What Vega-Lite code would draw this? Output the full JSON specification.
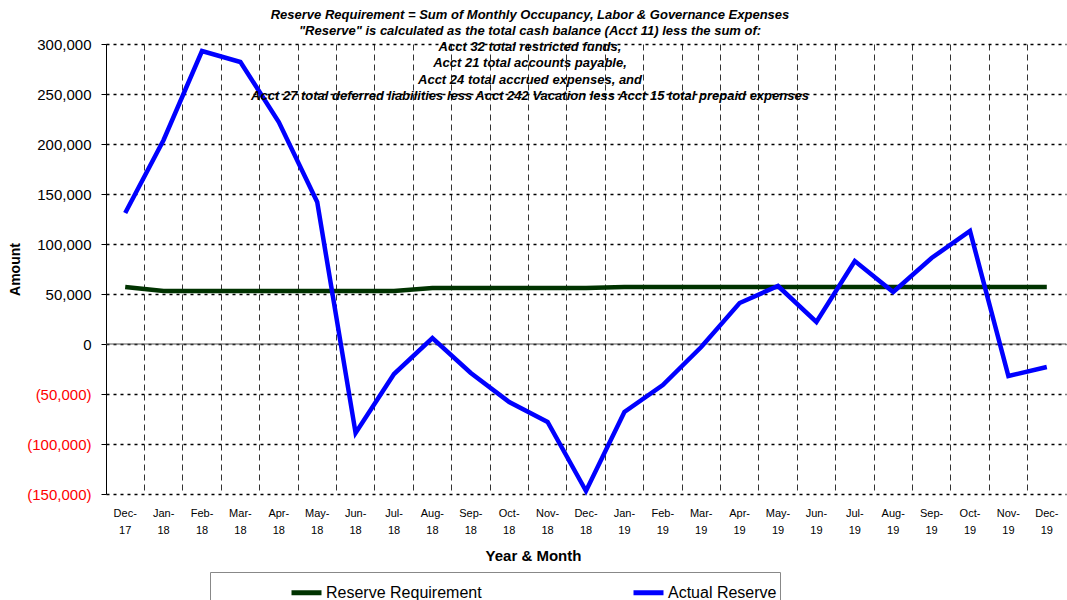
{
  "$schema": "https://vega.github.io/schema/vega-lite/v6.json",
  "width": 960,
  "height": 450,
  "autosize": "none",
  "padding": {"left": 106, "top": 44, "right": 1, "bottom": 106},
  "background": "white",
  "config": {
    "view": {"stroke": null},
    "font": "Liberation Sans"
  },
  "title": {
    "text": [
      "Reserve Requirement = Sum of Monthly Occupancy, Labor & Governance Expenses",
      "\"Reserve\" is calculated as the total cash balance (Acct 11) less the sum of:",
      "Acct 32 total restricted funds,",
      "Acct 21 total accounts payable,",
      "Acct 24 total accrued expenses, and",
      "Acct 27 total deferred liabilities less Acct 242 Vacation less Acct 15 total prepaid expenses"
    ],
    "font": "Liberation Sans",
    "fontSize": 13,
    "fontWeight": "bold",
    "fontStyle": "italic",
    "color": "black",
    "lineHeight": 16.3,
    "anchor": "middle",
    "dx": -56,
    "offset": -66
  },
  "data": {
    "values": [
      {"month": "Dec-17", "series": "Reserve Requirement", "value": 57000},
      {"month": "Jan-18", "series": "Reserve Requirement", "value": 53000},
      {"month": "Feb-18", "series": "Reserve Requirement", "value": 53000},
      {"month": "Mar-18", "series": "Reserve Requirement", "value": 53000},
      {"month": "Apr-18", "series": "Reserve Requirement", "value": 53000},
      {"month": "May-18", "series": "Reserve Requirement", "value": 53000},
      {"month": "Jun-18", "series": "Reserve Requirement", "value": 53000},
      {"month": "Jul-18", "series": "Reserve Requirement", "value": 53000},
      {"month": "Aug-18", "series": "Reserve Requirement", "value": 56000},
      {"month": "Sep-18", "series": "Reserve Requirement", "value": 56000},
      {"month": "Oct-18", "series": "Reserve Requirement", "value": 56000},
      {"month": "Nov-18", "series": "Reserve Requirement", "value": 56000},
      {"month": "Dec-18", "series": "Reserve Requirement", "value": 56000},
      {"month": "Jan-19", "series": "Reserve Requirement", "value": 57000},
      {"month": "Feb-19", "series": "Reserve Requirement", "value": 57000},
      {"month": "Mar-19", "series": "Reserve Requirement", "value": 57000},
      {"month": "Apr-19", "series": "Reserve Requirement", "value": 57000},
      {"month": "May-19", "series": "Reserve Requirement", "value": 57000},
      {"month": "Jun-19", "series": "Reserve Requirement", "value": 57000},
      {"month": "Jul-19", "series": "Reserve Requirement", "value": 57000},
      {"month": "Aug-19", "series": "Reserve Requirement", "value": 57000},
      {"month": "Sep-19", "series": "Reserve Requirement", "value": 57000},
      {"month": "Oct-19", "series": "Reserve Requirement", "value": 57000},
      {"month": "Nov-19", "series": "Reserve Requirement", "value": 57000},
      {"month": "Dec-19", "series": "Reserve Requirement", "value": 57000},
      {"month": "Dec-17", "series": "Actual Reserve", "value": 131000},
      {"month": "Jan-18", "series": "Actual Reserve", "value": 204000},
      {"month": "Feb-18", "series": "Actual Reserve", "value": 293000},
      {"month": "Mar-18", "series": "Actual Reserve", "value": 282000},
      {"month": "Apr-18", "series": "Actual Reserve", "value": 222000},
      {"month": "May-18", "series": "Actual Reserve", "value": 142000},
      {"month": "Jun-18", "series": "Actual Reserve", "value": -89000},
      {"month": "Jul-18", "series": "Actual Reserve", "value": -30000},
      {"month": "Aug-18", "series": "Actual Reserve", "value": 6000},
      {"month": "Sep-18", "series": "Actual Reserve", "value": -29000},
      {"month": "Oct-18", "series": "Actual Reserve", "value": -58000},
      {"month": "Nov-18", "series": "Actual Reserve", "value": -78000},
      {"month": "Dec-18", "series": "Actual Reserve", "value": -147000},
      {"month": "Jan-19", "series": "Actual Reserve", "value": -68000},
      {"month": "Feb-19", "series": "Actual Reserve", "value": -41000},
      {"month": "Mar-19", "series": "Actual Reserve", "value": -3000},
      {"month": "Apr-19", "series": "Actual Reserve", "value": 41000},
      {"month": "May-19", "series": "Actual Reserve", "value": 58000},
      {"month": "Jun-19", "series": "Actual Reserve", "value": 22000},
      {"month": "Jul-19", "series": "Actual Reserve", "value": 83000},
      {"month": "Aug-19", "series": "Actual Reserve", "value": 52000},
      {"month": "Sep-19", "series": "Actual Reserve", "value": 86000},
      {"month": "Oct-19", "series": "Actual Reserve", "value": 113000},
      {"month": "Nov-19", "series": "Actual Reserve", "value": -32000},
      {"month": "Dec-19", "series": "Actual Reserve", "value": -23000}
    ]
  },
  "encoding": {
    "x": {
      "field": "month",
      "type": "ordinal",
      "bandPosition": 0.5,
      "scale": {
        "type": "band",
        "paddingInner": 0,
        "paddingOuter": 0,
        "domain": ["Dec-17","Jan-18","Feb-18","Mar-18","Apr-18","May-18","Jun-18","Jul-18","Aug-18","Sep-18","Oct-18","Nov-18","Dec-18","Jan-19","Feb-19","Mar-19","Apr-19","May-19","Jun-19","Jul-19","Aug-19","Sep-19","Oct-19","Nov-19","Dec-19"]
      },
      "axis": {
        "title": "Year & Month",
        "titleFont": "Liberation Sans",
        "titleFontSize": 15,
        "titleFontWeight": "bold",
        "titleColor": "black",
        "titleX": 427,
        "titlePadding": 13,
        "bandPosition": 0,
        "labelAngle": 0,
        "labelExpr": "[split(datum.value, '-')[0] + '-', split(datum.value, '-')[1]]",
        "labelFont": "Liberation Sans",
        "labelFontSize": 11,
        "labelLineHeight": 17,
        "labelColor": "black",
        "labelPadding": 13,
        "domain": false,
        "ticks": false,
        "grid": true,
        "gridColor": "#333333",
        "gridDash": [6, 4],
        "gridWidth": 1
      }
    },
    "y": {
      "field": "value",
      "type": "quantitative",
      "scale": {"domain": [-150000, 300000], "nice": false, "zero": false},
      "axis": {
        "title": "Amount",
        "titleFont": "Liberation Sans",
        "titleFontSize": 14,
        "titleFontWeight": "bold",
        "titleColor": "black",
        "titlePadding": 4,
        "values": [-150000, -100000, -50000, 0, 50000, 100000, 150000, 200000, 250000, 300000],
        "labelExpr": "datum.value < 0 ? '(' + format(-datum.value, ',') + ')' : format(datum.value, ',')",
        "labelColor": {"condition": {"test": "datum.value < 0", "value": "#FF0000"}, "value": "black"},
        "labelFont": "Liberation Sans",
        "labelFontSize": 15,
        "labelPadding": 10,
        "domain": true,
        "domainColor": "black",
        "domainWidth": 1,
        "ticks": true,
        "tickSize": 5,
        "tickColor": "black",
        "grid": true,
        "gridColor": "black",
        "gridDash": [3, 4],
        "gridWidth": 1.5
      }
    }
  },
  "layer": [
    {
      "data": {"values": [{"zero": 0}]},
      "mark": {"type": "rule", "color": "#555555", "strokeWidth": 1},
      "encoding": {"y": {"field": "zero", "type": "quantitative"}, "x": null}
    },
    {
      "transform": [{"filter": "datum.series === 'Reserve Requirement'"}],
      "mark": {"type": "line", "strokeWidth": 4.5},
      "encoding": {
        "color": {
          "field": "series",
          "type": "nominal",
          "scale": {"domain": ["Reserve Requirement", "Actual Reserve"], "range": ["#003300", "#0000FF"]},
          "legend": {
            "title": null,
            "orient": "none",
            "direction": "horizontal",
            "columns": 2,
            "legendX": 104,
            "legendY": 528,
            "padding": 3,
            "symbolOffset": 76,
            "strokeColor": "#888888",
            "symbolType": "stroke",
            "symbolSize": 900,
            "symbolStrokeWidth": 5,
            "labelFont": "Liberation Sans",
            "labelFontSize": 16,
            "labelColor": "black",
            "labelOffset": 2,
            "columnPadding": 73
          }
        }
      }
    },
    {
      "transform": [{"filter": "datum.series === 'Actual Reserve'"}],
      "mark": {"type": "line", "strokeWidth": 4.5},
      "encoding": {
        "color": {"field": "series", "type": "nominal"}
      }
    }
  ]
}
